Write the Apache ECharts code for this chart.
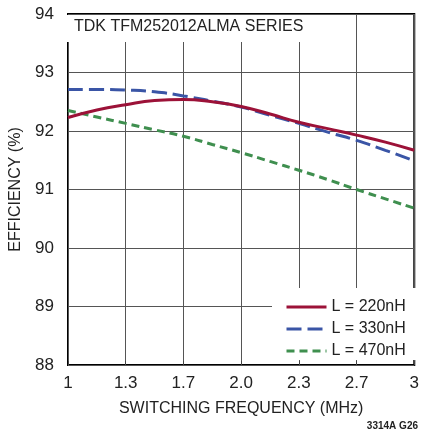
<!DOCTYPE html>
<html><head><meta charset="utf-8">
<script src="https://cdn.jsdelivr.net/npm/echarts@6/dist/echarts.min.js"></script>
<style>html,body{margin:0;padding:0;background:#fff}#c{width:422px;height:434px}</style>
</head><body><div id="c"></div>
<script>
const freq = [1, 1.1667, 1.3333, 1.5, 1.6667, 1.8333, 2, 2.1667, 2.3333, 2.5, 2.6667, 2.8333, 3];
const eff220 = [92.23, 92.36, 92.45, 92.52, 92.54, 92.50, 92.42, 92.29, 92.15, 92.04, 91.93, 91.81, 91.67];
const eff330 = [92.71, 92.71, 92.70, 92.67, 92.60, 92.51, 92.41, 92.27, 92.13, 91.98, 91.84, 91.67, 91.49];
const eff470 = [92.35, 92.24, 92.13, 92.02, 91.91, 91.77, 91.63, 91.48, 91.33, 91.17, 91.00, 90.84, 90.68];
const xTickLabels = ['1', '1.3', '1.7', '2.0', '2.3', '2.7', '3'];
const seriesNames = ['L = 220nH', 'L = 330nH', 'L = 470nH'];
const titleText = 'TDK TFM252012ALMA SERIES';
const noteText = '3314A G26';

const FONT = '"Liberation Sans Narrow", "Liberation Sans", Arial, sans-serif';
const pair = (ys) => freq.map((x, i) => [x, ys[i]]);
const chart = echarts.init(document.getElementById('c'), null, {renderer: 'canvas'});
chart.setOption({
  animation: false,
  backgroundColor: '#fff',
  textStyle: {fontFamily: FONT},
  grid: {left: 66, top: 14, right: 4, bottom: 69, show: true, borderColor: '#000', borderWidth: 2, backgroundColor: 'transparent'},
  xAxis: {
    type: 'value', min: 1, max: 3, interval: 1/3,
    name: 'SWITCHING FREQUENCY (MHz)', nameLocation: 'middle', nameGap: 36,
    nameTextStyle: {fontSize: 16, color: '#222', fontFamily: FONT},
    axisLine: {show: false},
    axisTick: {show: true, inside: true, length: 4, lineStyle: {color: '#444'}},
    axisLabel: {fontSize: 17, color: '#222', margin: 10, fontFamily: FONT,
      formatter: (v) => xTickLabels[Math.round((v - 1) * 3)]},
    splitLine: {show: true, lineStyle: {color: '#555', width: 1}}
  },
  yAxis: {
    type: 'value', min: 88, max: 94, interval: 1,
    name: 'EFFICIENCY (%)', nameLocation: 'middle', nameGap: 44,
    nameTextStyle: {fontSize: 16, color: '#222', fontFamily: FONT},
    axisLine: {show: false},
    axisTick: {show: false},
    axisLabel: {fontSize: 17, color: '#222', margin: 14, fontFamily: FONT},
    splitLine: {show: true, lineStyle: {color: '#555', width: 1}}
  },
  legend: {
    orient: 'vertical', left: 280, top: 294, itemWidth: 40, itemHeight: 14, itemGap: 6,
    itemStyle: {opacity: 0},
    lineStyle: {width: 3},
    textStyle: {fontSize: 16, color: '#222', fontFamily: FONT},
    data: seriesNames
  },
  graphic: [
    {type: 'rect', z: 1, shape: {x: 67, y: 15, width: 272, height: 27}, style: {fill: '#fff'}},
    {type: 'text', z: 2, left: 74, top: 19, style: {text: titleText, fill: '#222', font: '16px ' + FONT}},
    {type: 'rect', z: 1, shape: {x: 272, y: 288, width: 145, height: 72}, style: {fill: '#fff'}},
    {type: 'text', z: 2, right: 4, top: 421, style: {text: noteText, fill: '#222', font: 'bold 10px ' + FONT}}
  ],
  series: [
    {name: seriesNames[0], type: 'line', data: pair(eff220), smooth: true, symbol: 'none', z: 4,
     lineStyle: {color: '#9c1238', width: 3}, itemStyle: {color: '#9c1238'}},
    {name: seriesNames[1], type: 'line', data: pair(eff330), smooth: true, symbol: 'none', z: 3,
     lineStyle: {color: '#3a55a6', width: 3, type: [15, 6]}, itemStyle: {color: '#3a55a6'}},
    {name: seriesNames[2], type: 'line', data: pair(eff470), smooth: true, symbol: 'none', z: 3,
     lineStyle: {color: '#3f8f4f', width: 3, type: [8, 5]}, itemStyle: {color: '#3f8f4f'}}
  ]
});
</script></body></html>
